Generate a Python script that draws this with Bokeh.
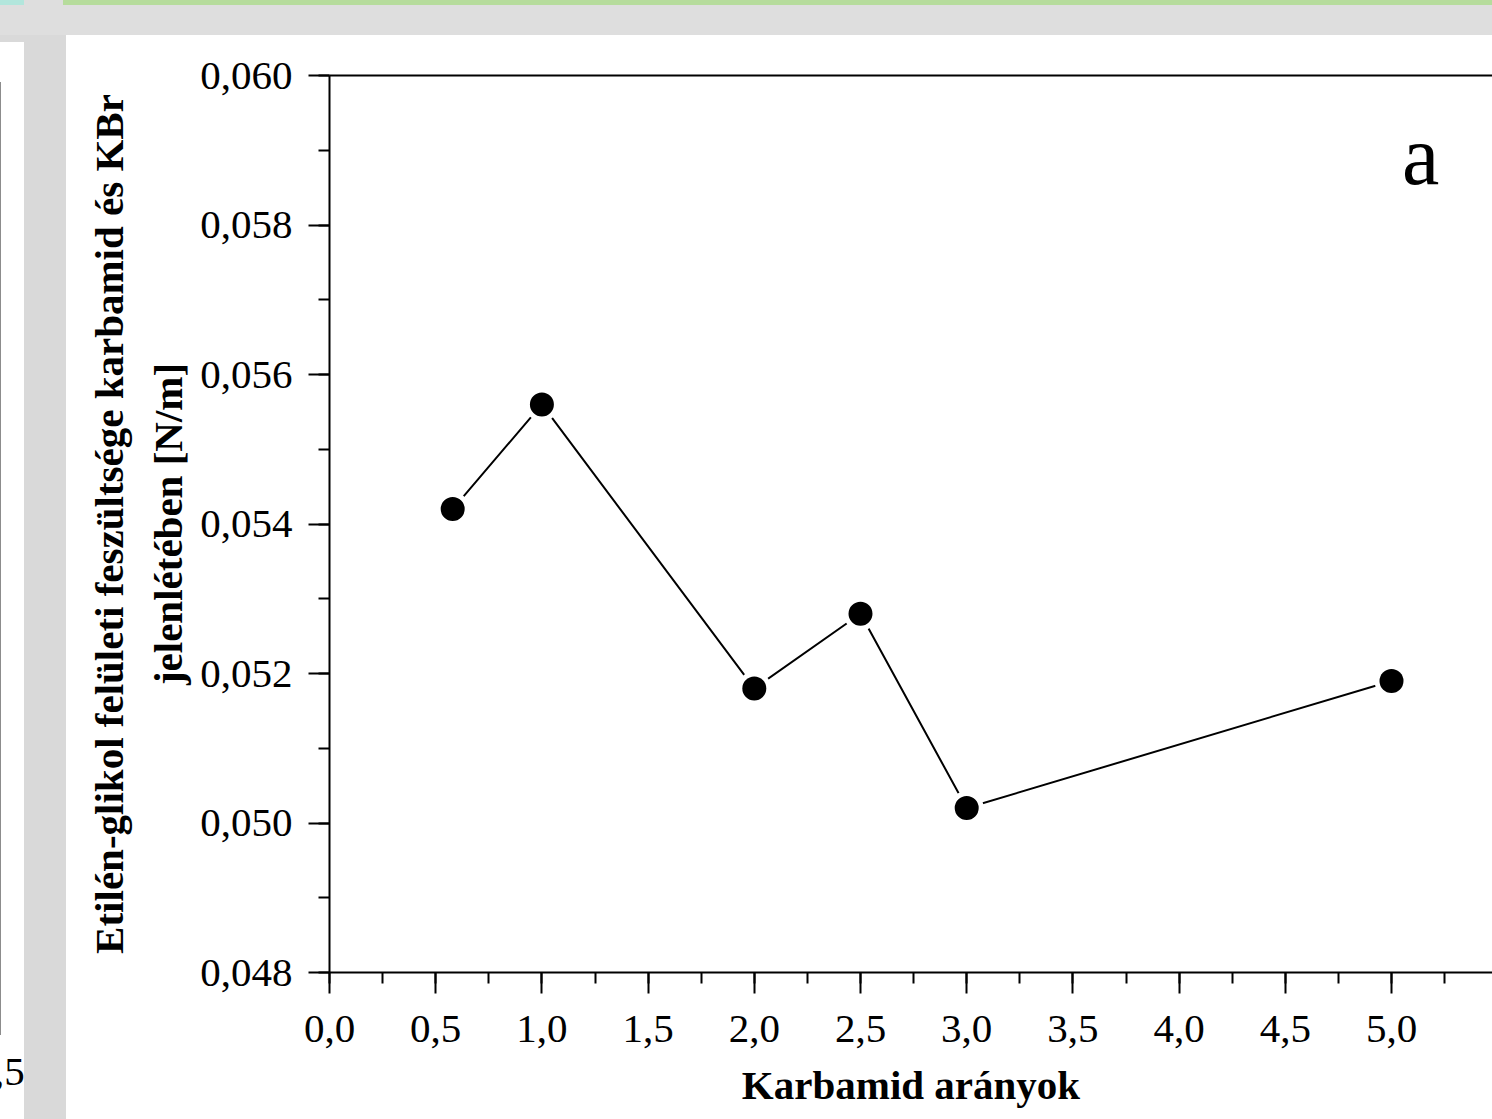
from bokeh.plotting import figure
from bokeh.models import (Range1d, LinearAxis, SingleIntervalTicker, FixedTicker,
                          CustomJSTickFormatter, Label, Div, ColumnDataSource)
from bokeh.layouts import column, row
from bokeh.embed import file_html
from bokeh.resources import INLINE

# --- data ---
ratios = [0.58, 1.0, 2.0, 2.5, 3.0, 5.0]
tension = [0.0542, 0.0556, 0.0518, 0.0528, 0.0502, 0.0519]
x_label = "Karbamid arányok"
y_label = "Etilén-glikol felületi feszültsége karbamid és KBr\njelenlétében [N/m]"
panel_tag = "a"

FONT = "Liberation Serif"

src = ColumnDataSource(data=dict(x=ratios, y=tension))

p = figure(width=1426, height=1084, output_backend="svg", toolbar_location=None,
           x_range=Range1d(0, 5.4755), y_range=Range1d(0.048, 0.060),
           min_border_left=263, min_border_right=0, min_border_top=40, min_border_bottom=147,
           background_fill_color="white", border_fill_color="white",
           outline_line_color=None, x_axis_type=None, y_axis_type=None, margin=0)
p.xgrid.visible = False
p.ygrid.visible = False

xaxis = LinearAxis(ticker=SingleIntervalTicker(interval=0.5, num_minor_ticks=2),
                   formatter=CustomJSTickFormatter(code="return tick.toFixed(1).replace('.', ',');"))
yaxis = LinearAxis(ticker=SingleIntervalTicker(interval=0.002, num_minor_ticks=2),
                   formatter=CustomJSTickFormatter(code="return tick.toFixed(3).replace('.', ',');"))
for ax in (xaxis, yaxis):
    ax.axis_line_width = 2
    ax.axis_line_color = "black"
    ax.major_tick_line_width = 2
    ax.minor_tick_line_width = 2
    ax.major_tick_line_color = "black"
    ax.minor_tick_line_color = "black"
    ax.major_tick_in = 0
    ax.major_tick_out = 21
    ax.minor_tick_in = 0
    ax.minor_tick_out = 11
    ax.major_label_text_font = FONT
    ax.major_label_text_font_size = "41px"
    ax.major_label_text_color = "black"
    ax.axis_label_text_font = FONT
    ax.axis_label_text_font_size = "41px"
    ax.axis_label_text_font_style = "bold"
    ax.axis_label_text_color = "black"

xaxis.axis_label = x_label
xaxis.major_label_standoff = 22
xaxis.axis_label_standoff = 17
yaxis.axis_label = y_label
yaxis.major_label_standoff = 16
yaxis.axis_label_standoff = 6
yaxis.axis_label_text_line_height = 1.29

top_axis = LinearAxis(ticker=FixedTicker(ticks=[]), axis_line_width=2, axis_line_color="black",
                      major_label_text_font_size="0px", major_tick_line_color=None,
                      minor_tick_line_color=None)

p.add_layout(xaxis, "below")
p.add_layout(yaxis, "left")
p.add_layout(top_axis, "above")

p.line("x", "y", source=src, line_color="black", line_width=2)
p.scatter("x", "y", source=src, size=34, fill_color="white", line_color=None)
p.scatter("x", "y", source=src, size=24, fill_color="black", line_color=None)

p.add_layout(Label(x=5.05, y=0.05893, text=panel_tag, text_font=FONT, text_font_size="84px",
                   text_color="black", text_baseline="alphabetic"))

top_div = Div(width=1492, height=35, text="", margin=0,
              styles={"background": "linear-gradient(#b6dc9c,#b6dc9c) 63px 0/1429px 5px no-repeat, "
                                    "linear-gradient(#b2e6dc,#b2e6dc) 0 0/24px 5px no-repeat, #dedede"})
left_div = Div(width=66, height=1084, margin=0,
               text='<div style="width:24px;overflow:hidden;height:1084px;">'
                    '<div style="margin-top:1012px;margin-left:-6px;font-family:\'Liberation Serif\';'
                    'font-size:41px;line-height:48px;white-space:nowrap;color:black;">,5</div></div>',
               styles={"background": "linear-gradient(#8c8c8c,#8c8c8c) 0 47px/1px 953px no-repeat, "
                                     "linear-gradient(#ffffff,#ffffff) 0 7px/24px 1077px no-repeat, #d9d9d9",
                       "overflow": "hidden"})

layout = column(top_div, row(left_div, p, spacing=0, margin=0), spacing=0, margin=0)

open("out.html", "w").write(file_html(layout, INLINE))
